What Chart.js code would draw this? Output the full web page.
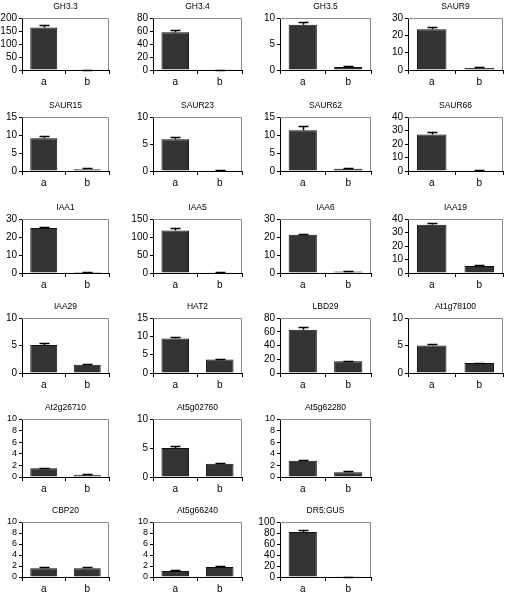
<!DOCTYPE html>
<html>
<head>
<meta charset="utf-8">
<script src="https://cdn.jsdelivr.net/npm/chart.js@4.4.1/dist/chart.umd.min.js"></script>
<style>
  body { margin: 0; background: #fff; }
  #wrap { position: relative; width: 510px; height: 594px; overflow: hidden; }
  #wrap canvas { position: absolute; }
</style>
</head>
<body>
<div id="wrap"></div>
<script>
// ---- data ----
const categories = ["a", "b"];
const genes = ["GH3.3", "GH3.4", "GH3.5", "SAUR9",
               "SAUR15", "SAUR23", "SAUR62", "SAUR66",
               "IAA1", "IAA5", "IAA6", "IAA19",
               "IAA29", "HAT2", "LBD29", "At1g78100",
               "At2g26710", "At5g02760", "At5g62280",
               "CBP20", "At5g66240", "DR5:GUS"];
const valuesA = [163, 58, 8.7, 23.5, 9.1, 5.9, 11.3, 27, 25, 118, 21.3, 35.8, 5.1, 9.4, 63, 5.0, 1.5, 5.0, 2.8, 1.6, 1.1, 82];
const valuesB = [1, 0.3, 0.6, 1.2, 0.5, 0.15, 0.6, 0.3, 0.5, 1, 0.8, 5.2, 1.5, 3.7, 17, 1.8, 0.4, 2.3, 0.8, 1.6, 1.8, 0.5];
const errorsA = [10, 3, 0.5, 1.5, 0.6, 0.4, 1.1, 2, 0.8, 6, 0.5, 1, 0.3, 0.5, 3.5, 0.3, 0.1, 0.3, 0.2, 0.15, 0.1, 3];
const errorsB = [0.5, 0.2, 0.1, 0.4, 0.2, 0.1, 0.2, 0.2, 0.2, 0.5, 0.2, 0.5, 0.15, 0.2, 1, 0.1, 0.1, 0.15, 0.15, 0.15, 0.15, 0.2];
const axisMax = [200, 80, 10, 30, 15, 10, 15, 40, 30, 150, 30, 40, 10, 15, 80, 10, 10, 10, 10, 10, 10, 100];
const axisStep = [50, 20, 5, 10, 5, 5, 5, 10, 10, 50, 10, 10, 5, 5, 20, 5, 2, 5, 2, 2, 2, 20];

// ---- layout (plot area edges in page pixels) ----
const rowPlot = [[18, 70], [117, 171], [219, 273], [318, 373], [419, 477], [522, 577]];
const colPlot = [[22, 109], [153, 242], [280, 371], [408, 503]];
const FONT = "'Liberation Sans', Arial, sans-serif";
const AXIS_W = 22, TOP_PAD = 16, X_H = 20;

const slot = i => i < 16
  ? { row: Math.floor(i / 4), col: i % 4 }
  : { row: 4 + Math.floor((i - 16) / 3), col: (i - 16) % 3 };

// frame, error bars and panel title
const panelDeco = {
  id: "panelDeco",
  afterDatasetsDraw(chart, args, opts) {
    const { ctx, chartArea: a, scales: { x, y } } = chart;
    ctx.save();
    ctx.strokeStyle = "#8c8c8c";
    ctx.lineWidth = 1;
    ctx.beginPath();
    ctx.moveTo(a.left, a.top + 0.5);
    ctx.lineTo(a.right - 0.5, a.top + 0.5);
    ctx.lineTo(a.right - 0.5, a.bottom);
    ctx.stroke();

    ctx.strokeStyle = "#000";
    ctx.lineWidth = 1.5;
    opts.values.forEach((v, i) => {
      const px = Math.round(x.getPixelForValue(i)) + 0.5;
      const y0 = y.getPixelForValue(v);
      const y1 = Math.round(y.getPixelForValue(v + opts.errors[i])) + 0.5;
      ctx.beginPath();
      ctx.moveTo(px, y0);
      ctx.lineTo(px, y1);
      ctx.moveTo(px - 5, y1);
      ctx.lineTo(px + 5, y1);
      ctx.stroke();
    });

    ctx.fillStyle = "#000";
    ctx.font = "8.5px " + FONT;
    ctx.textAlign = "center";
    ctx.textBaseline = "middle";
    ctx.fillText(opts.title, (a.left + a.right) / 2, a.top - 11);
    ctx.restore();
  }
};

const wrap = document.getElementById("wrap");

genes.forEach((gene, i) => {
  const { row, col } = slot(i);
  const [top, bottom] = rowPlot[row];
  const [left, right] = colPlot[col];

  const cv = document.createElement("canvas");
  cv.width = right - left + AXIS_W + 3;
  cv.height = bottom - top + TOP_PAD + X_H;
  cv.style.left = (left - AXIS_W) + "px";
  cv.style.top = (top - TOP_PAD) + "px";
  wrap.appendChild(cv);

  const vals = [valuesA[i], valuesB[i]];
  const small = axisStep[i] === 2;

  new Chart(cv, {
    type: "bar",
    data: {
      labels: categories,
      datasets: [{
        data: vals,
        backgroundColor: "#333333",
        borderColor: "#111111",
        borderWidth: 1,
        barPercentage: 0.62,
        categoryPercentage: 1
      }]
    },
    options: {
      responsive: false,
      animation: false,
      events: [],
      layout: { padding: { top: TOP_PAD, right: 3, left: 0, bottom: 0 } },
      plugins: {
        legend: { display: false },
        tooltip: { enabled: false },
        panelDeco: { title: gene, values: vals, errors: [errorsA[i], errorsB[i]] }
      },
      scales: {
        x: {
          grid: { drawOnChartArea: false, tickLength: 4, color: "#000", offset: true },
          border: { color: "#000" },
          ticks: { color: "#000", font: { size: 10, family: FONT }, padding: 2 },
          afterFit: s => { s.height = X_H; }
        },
        y: {
          min: 0,
          max: axisMax[i],
          ticks: {
            stepSize: axisStep[i],
            autoSkip: false,
            color: "#000",
            font: { size: small ? 9 : 10, family: FONT },
            padding: 2
          },
          grid: { drawOnChartArea: false, tickLength: 3, color: "#000" },
          border: { color: "#000" },
          afterFit: s => { s.width = AXIS_W; }
        }
      }
    },
    plugins: [panelDeco]
  });
});
</script>
</body>
</html>
